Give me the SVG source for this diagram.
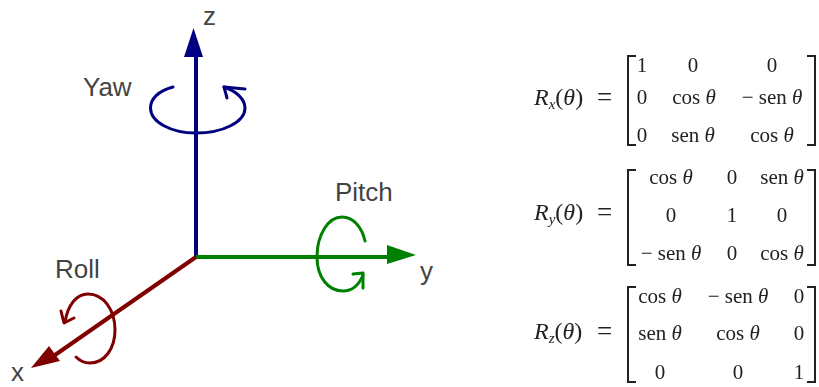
<svg xmlns="http://www.w3.org/2000/svg" width="819" height="387" viewBox="0 0 819 387">
<defs><filter id="soft" x="-5%" y="-5%" width="110%" height="110%"><feGaussianBlur stdDeviation="0.4"/></filter></defs>
<style>
.lbl{font-family:"Liberation Sans",Arial,sans-serif;font-size:26px;fill:#444}
.m{font-family:"Liberation Serif","Times New Roman",serif;font-size:21px;fill:#222;text-anchor:middle}
.t{font-style:italic}
.r{font-family:"Liberation Serif","Times New Roman",serif;font-size:24px;fill:#222}
.e{font-family:"Liberation Serif","Times New Roman",serif;font-size:27px;fill:#222}
.s{font-size:15px;font-style:italic}
.br{fill:none;stroke:#222;stroke-width:2}
.axis{fill:none;stroke-width:4}
.rot{fill:none;stroke-width:3;stroke-linecap:round;stroke-linejoin:round}
.math{filter:url(#soft)}
</style>
<rect width="819" height="387" fill="#fff"/>
<g id="connectors">
<g id="axis-z"><path class="axis" stroke="#000080" d="M196 258V57"/><polygon fill="#000080" points="193.500,28 184,57 203,57"/></g>
<g id="axis-y"><path class="axis" stroke="#008000" d="M196 257H388"/><polygon fill="#008000" points="416,255 387,245 387,264"/></g>
<g id="axis-x"><path class="axis" stroke="#800000" d="M196 257L55 355"/><polygon fill="#800000" points="31,368 49,346 60,361"/></g>
</g>
<g id="node-yaw">
<path class="rot" stroke="#000080" d="M173 87C158 91 150.500 99 150.500 108C150.500 122 171 133 196 133C223 133 245 122 245 108C245 99 236 91 224 87"/>
<path class="rot" stroke="#000080" d="M245 89L224 87L227 98"/>
<text class="lbl" x="83" y="96">Yaw</text>
</g>
<g id="node-z"><text class="lbl" x="203" y="25">z</text></g>
<g id="node-pitch">
<path class="rot" stroke="#008000" d="M365 241C362 227 353 217 342 217C328 217 317 235 317 257C317 277 328 291 343 291C352 291 359 285 363 275"/>
<path class="rot" stroke="#008000" d="M353 274L363 273L363 288"/>
<text class="lbl" x="335" y="201">Pitch</text>
</g>
<g id="node-y"><text class="lbl" x="420" y="280">y</text></g>
<g id="node-roll">
<path class="rot" stroke="#800000" d="M76 357C80 361 85 363 90 363C105 363 115 348 115 330C115 309 103 294 88 294C77 294 68 304 65 322"/>
<path class="rot" stroke="#800000" d="M61 311L64 323L74 318"/>
<text class="lbl" x="55" y="278">Roll</text>
</g>
<g id="node-x"><text class="lbl" x="11" y="381">x</text></g>
<g id="node-rx" class="math">
<text class="r" x="534" y="105"><tspan class="t">R</tspan><tspan class="s" dy="4">x</tspan><tspan dy="-4">(</tspan><tspan class="t">θ</tspan>)</text><text class="e" x="597" y="106">=</text>
<path class="br" d="M636 56H628V145H636M807 56H815V145H807"/>
<text class="m" x="642" y="72">1</text><text class="m" x="693" y="72">0</text><text class="m" x="772" y="72">0</text>
<text class="m" x="642" y="104">0</text><text class="m" x="694" y="104">cos <tspan class="t">θ</tspan></text><text class="m" x="772" y="104">− sen <tspan class="t">θ</tspan></text>
<text class="m" x="642" y="142">0</text><text class="m" x="693" y="142">sen <tspan class="t">θ</tspan></text><text class="m" x="772" y="142">cos <tspan class="t">θ</tspan></text>
</g>
<g id="node-ry" class="math">
<text class="r" x="534" y="220"><tspan class="t">R</tspan><tspan class="s" dy="4">y</tspan><tspan dy="-4">(</tspan><tspan class="t">θ</tspan>)</text><text class="e" x="597" y="221">=</text>
<path class="br" d="M636 170H628V265H636M807 170H815V265H807"/>
<text class="m" x="671" y="184">cos <tspan class="t">θ</tspan></text><text class="m" x="732" y="184">0</text><text class="m" x="782" y="184">sen <tspan class="t">θ</tspan></text>
<text class="m" x="671" y="222">0</text><text class="m" x="732" y="222">1</text><text class="m" x="782" y="222">0</text>
<text class="m" x="671" y="260">− sen <tspan class="t">θ</tspan></text><text class="m" x="732" y="260">0</text><text class="m" x="782" y="260">cos <tspan class="t">θ</tspan></text>
</g>
<g id="node-rz" class="math">
<text class="r" x="534" y="339"><tspan class="t">R</tspan><tspan class="s" dy="4">z</tspan><tspan dy="-4">(</tspan><tspan class="t">θ</tspan>)</text><text class="e" x="597" y="340">=</text>
<path class="br" d="M636 287H628V382H636M807 287H815V382H807"/>
<text class="m" x="660" y="303">cos <tspan class="t">θ</tspan></text><text class="m" x="738" y="303">− sen <tspan class="t">θ</tspan></text><text class="m" x="799" y="303">0</text>
<text class="m" x="660" y="340">sen <tspan class="t">θ</tspan></text><text class="m" x="738" y="340">cos <tspan class="t">θ</tspan></text><text class="m" x="799" y="340">0</text>
<text class="m" x="660" y="379">0</text><text class="m" x="738" y="379">0</text><text class="m" x="799" y="379">1</text>
</g>
</svg>
